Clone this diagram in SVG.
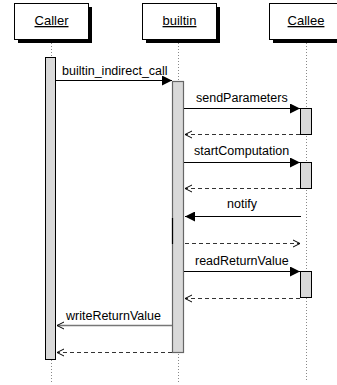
<svg xmlns="http://www.w3.org/2000/svg" width="337" height="385" viewBox="0 0 337 385">
<defs>
<style>
text{font-family:"Liberation Sans",Arial,sans-serif;font-size:12.5px;fill:#000}
.hdr{text-anchor:middle;text-decoration:underline;font-size:13px}
.box{fill:#fff;stroke:#000;stroke-width:1}
.shadow{fill:#000}
.life{stroke:#888;stroke-width:1;stroke-dasharray:1,2;fill:none}
.act{fill:#d9d9d9;stroke:#000;stroke-width:1}
.act2{fill:#d9d9d9;stroke:#666;stroke-width:1.2}
.msg{stroke:#000;stroke-width:1;fill:none}
.ret{stroke:#333;stroke-width:1;stroke-dasharray:4,3;fill:none}
.msg2{stroke:#777;stroke-width:1.5;fill:none}
</style>
<marker id="fill" markerWidth="10" markerHeight="10" refX="10" refY="5" orient="auto" markerUnits="userSpaceOnUse">
<path d="M0,0 L10,5 L0,10 z" fill="#000"/>
</marker>
<marker id="open" markerWidth="8" markerHeight="10" refX="7" refY="5" orient="auto" markerUnits="userSpaceOnUse">
<path d="M0,1.5 L7,5 L0,8.5" fill="none" stroke="#000" stroke-width="1"/>
</marker>
</defs>

<g id="caller">
<rect class="shadow" x="18" y="7" width="74" height="36"/>
<rect class="box" x="14.5" y="3.5" width="74" height="36"/>
<text class="hdr" x="51.5" y="25">Caller</text>
<line class="life" x1="51.5" y1="43" x2="51.5" y2="57"/>
<line class="life" x1="51.5" y1="360" x2="51.5" y2="382"/>
<rect class="act" x="45.5" y="57.5" width="10" height="302"/>
</g>

<g id="builtin">
<rect class="shadow" x="146" y="7" width="74" height="36"/>
<rect class="box" x="142.5" y="3.5" width="74" height="36"/>
<text class="hdr" x="179.5" y="25">builtin</text>
<line class="life" x1="178.5" y1="43" x2="178.5" y2="81"/>
<line class="life" x1="178.5" y1="354" x2="178.5" y2="382"/>
<rect class="act2" x="172.5" y="81.5" width="11" height="271"/>
<line x1="172.5" y1="218" x2="172.5" y2="244" stroke="#000" stroke-width="1.2"/>
</g>

<g id="callee">
<rect class="shadow" x="273" y="7" width="74" height="36"/>
<rect class="box" x="269.5" y="3.5" width="74" height="36"/>
<text class="hdr" x="306" y="25">Callee</text>
<line class="life" x1="306.5" y1="43" x2="306.5" y2="382"/>
<rect class="act" x="300.5" y="108.5" width="11" height="26"/>
<rect class="act" x="300.5" y="162.5" width="11" height="26"/>
<rect class="act" x="300.5" y="271.5" width="11" height="26"/>
</g>

<g id="connectors">
<line class="msg" x1="56" y1="80.5" x2="172" y2="80.5" marker-end="url(#fill)"/>
<text x="62" y="75">builtin_indirect_call</text>

<line class="msg" x1="184" y1="108.5" x2="300" y2="108.5" marker-end="url(#fill)"/>
<text x="196" y="102">sendParameters</text>
<line class="ret" x1="300" y1="134.5" x2="185" y2="134.5" marker-end="url(#open)"/>

<line class="msg" x1="184" y1="162.5" x2="300" y2="162.5" marker-end="url(#fill)"/>
<text x="194" y="155">startComputation</text>
<line class="ret" x1="300" y1="188.5" x2="185" y2="188.5" marker-end="url(#open)"/>

<line class="msg" x1="301" y1="216.5" x2="185" y2="216.5" marker-end="url(#fill)"/>
<text x="242" y="208" text-anchor="middle">notify</text>

<line class="ret" x1="185" y1="243.5" x2="300" y2="243.5" marker-end="url(#open)"/>

<line class="msg" x1="184" y1="271.5" x2="300" y2="271.5" marker-end="url(#fill)"/>
<text x="195" y="265">readReturnValue</text>
<line class="ret" x1="300" y1="298.5" x2="185" y2="298.5" marker-end="url(#open)"/>

<line class="msg2" x1="172" y1="325.5" x2="57" y2="325.5" marker-end="url(#open)"/>
<text x="66" y="320">writeReturnValue</text>
<line class="ret" x1="172" y1="352.5" x2="57" y2="352.5" marker-end="url(#open)"/>
</g>
</svg>
